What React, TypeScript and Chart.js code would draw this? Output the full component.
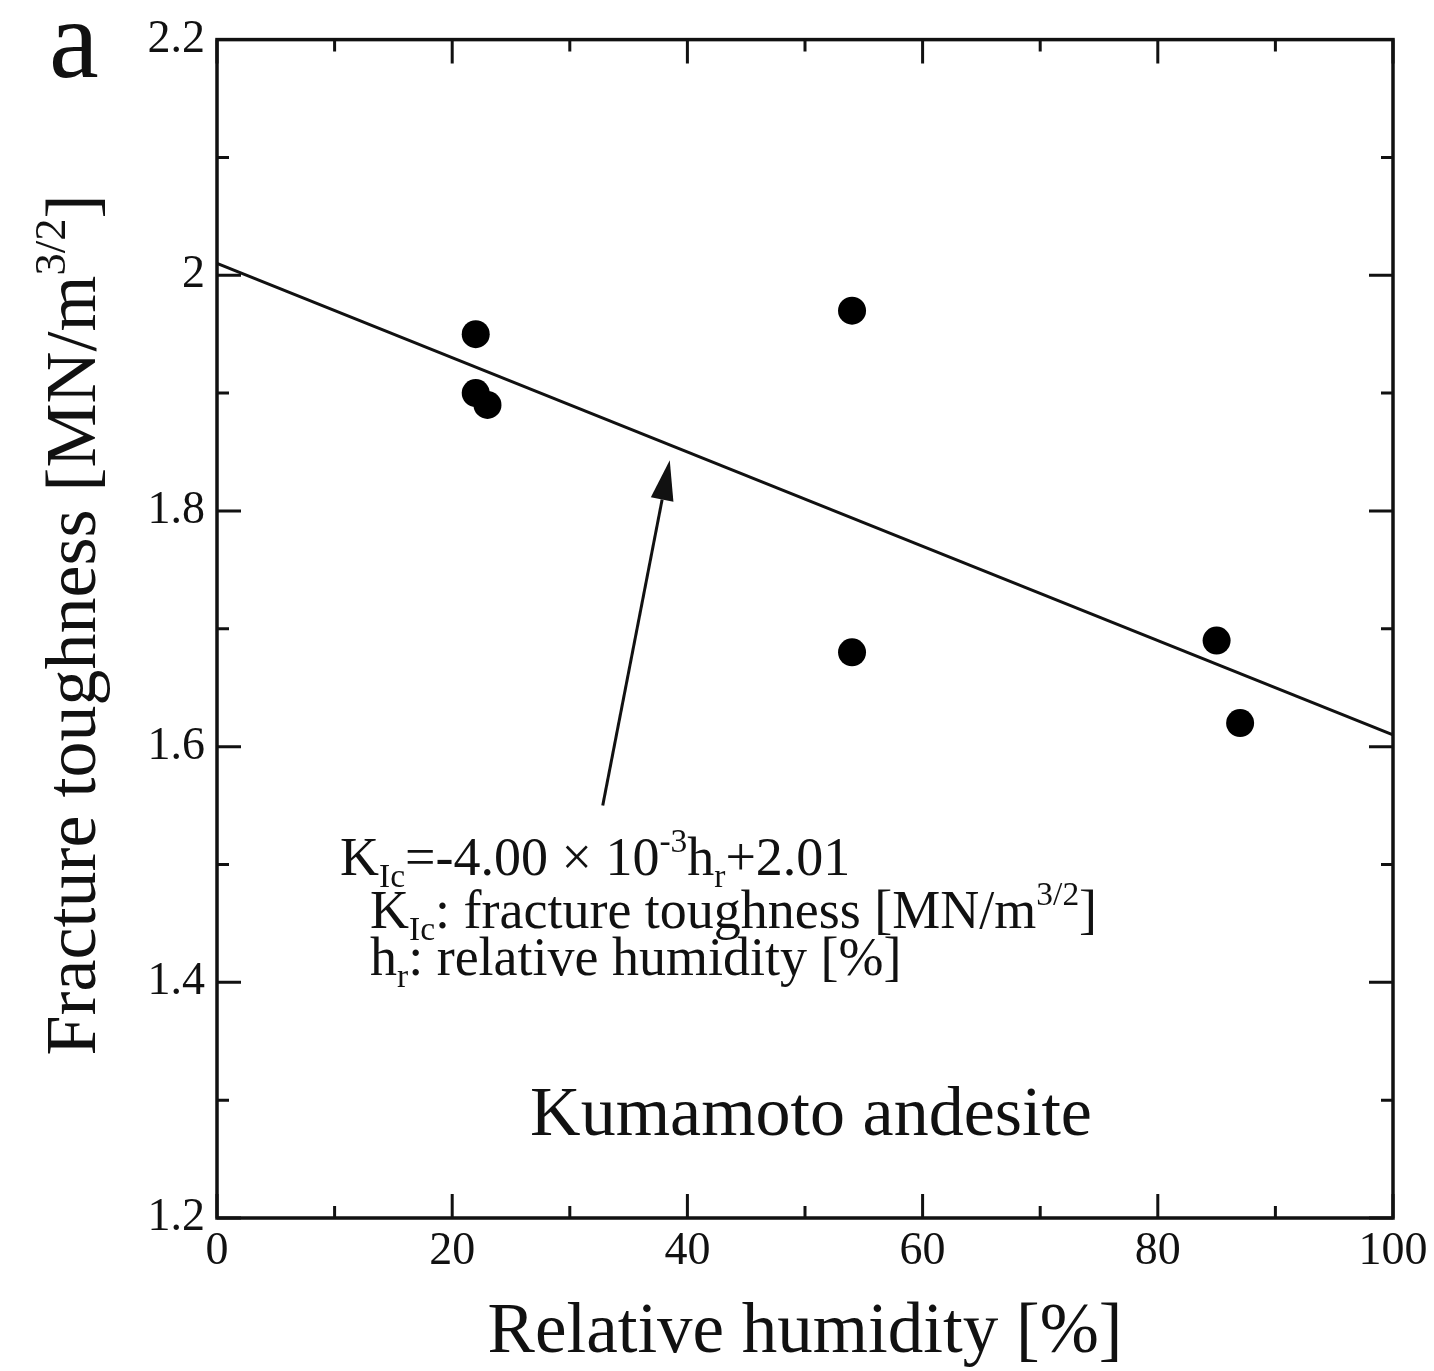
import React, { useEffect, useRef } from "react";
import { Chart, registerables } from "chart.js";

Chart.register(...registerables);

// ---- data ----
const humidity = [22, 22, 23, 54, 54, 85, 87];
const toughness = [1.95, 1.9, 1.89, 1.97, 1.68, 1.69, 1.62];
const fitX = [0, 100];
const fitY = [2.01, 1.61];
const xMajorTicks = [0, 20, 40, 60, 80, 100];
const xMinorTicks = [10, 30, 50, 70, 90];
const yMajorTicks = [1.2, 1.4, 1.6, 1.8, 2.0, 2.2];
const yMinorTicks = [1.3, 1.5, 1.7, 1.9, 2.1];
const yTickLabels = ["1.2", "1.4", "1.6", "1.8", "2", "2.2"];
const xTickLabels = ["0", "20", "40", "60", "80", "100"];
const arrowTail = { x: 32.8, y: 1.55 };
const arrowTip = { x: 38.5, y: 1.843 };

const SERIF = '"Liberation Serif", "Times New Roman", serif';

type Seg = { t: string; m?: "sub" | "sup" };

function segFont(size: number, m?: string) {
  const s = m ? size * 0.62 : size;
  return `${s}px ${SERIF}`;
}
function richWidth(ctx: CanvasRenderingContext2D, segs: Seg[], size: number) {
  let w = 0;
  for (const s of segs) {
    ctx.font = segFont(size, s.m);
    w += ctx.measureText(s.t).width;
  }
  return w;
}
function richText(ctx: CanvasRenderingContext2D, segs: Seg[], x: number, y: number, size: number) {
  let cx = x;
  ctx.textAlign = "left";
  ctx.textBaseline = "alphabetic";
  for (const s of segs) {
    ctx.font = segFont(size, s.m);
    let dy = 0;
    if (s.m === "sub") dy = size * 0.22;
    if (s.m === "sup") dy = -size * 0.42;
    ctx.fillText(s.t, cx, y + dy);
    cx += ctx.measureText(s.t).width;
  }
  return cx - x;
}

const decorPlugin = {
  id: "decor",
  afterDatasetsDraw(chart: any) {
    const ctx: CanvasRenderingContext2D = chart.ctx;
    const { left, right, top, bottom } = chart.chartArea;
    const xs = chart.scales.x;
    const ys = chart.scales.y;
    ctx.save();
    ctx.strokeStyle = "#111";
    ctx.fillStyle = "#111";
    // frame
    ctx.lineWidth = 3.5;
    ctx.strokeRect(left, top, right - left, bottom - top);
    // ticks (inward, all sides)
    ctx.lineWidth = 3;
    const major = 24;
    const minor = 12;
    ctx.beginPath();
    const xt = (v: number, len: number) => {
      const px = xs.getPixelForValue(v);
      ctx.moveTo(px, bottom);
      ctx.lineTo(px, bottom - len);
      ctx.moveTo(px, top);
      ctx.lineTo(px, top + len);
    };
    const yt = (v: number, len: number) => {
      const py = ys.getPixelForValue(v);
      ctx.moveTo(left, py);
      ctx.lineTo(left + len, py);
      ctx.moveTo(right, py);
      ctx.lineTo(right - len, py);
    };
    xMajorTicks.forEach((v) => xt(v, major));
    xMinorTicks.forEach((v) => xt(v, minor));
    yMajorTicks.forEach((v) => yt(v, major));
    yMinorTicks.forEach((v) => yt(v, minor));
    ctx.stroke();

    // arrow
    const ax0 = xs.getPixelForValue(arrowTail.x);
    const ay0 = ys.getPixelForValue(arrowTail.y);
    const ax1 = xs.getPixelForValue(arrowTip.x);
    const ay1 = ys.getPixelForValue(arrowTip.y);
    const ang = Math.atan2(ay1 - ay0, ax1 - ax0);
    const hl = 40;
    const hw = 11.5;
    const bx = ax1 - hl * Math.cos(ang);
    const by = ay1 - hl * Math.sin(ang);
    ctx.lineWidth = 3;
    ctx.beginPath();
    ctx.moveTo(ax0, ay0);
    ctx.lineTo(bx, by);
    ctx.stroke();
    ctx.beginPath();
    ctx.moveTo(ax1, ay1);
    ctx.lineTo(bx + hw * Math.sin(ang), by - hw * Math.cos(ang));
    ctx.lineTo(bx - hw * Math.sin(ang), by + hw * Math.cos(ang));
    ctx.closePath();
    ctx.fill();

    // annotation
    const fs = 54;
    richText(
      ctx,
      [
        { t: "K" },
        { t: "Ic", m: "sub" },
        { t: "=-4.00 × 10" },
        { t: "-3", m: "sup" },
        { t: "h" },
        { t: "r", m: "sub" },
        { t: "+2.01" },
      ],
      340,
      875,
      fs
    );
    richText(
      ctx,
      [
        { t: "K" },
        { t: "Ic", m: "sub" },
        { t: ": fracture toughness [MN/m" },
        { t: "3/2", m: "sup" },
        { t: "]" },
      ],
      370,
      928,
      fs
    );
    richText(
      ctx,
      [{ t: "h" }, { t: "r", m: "sub" }, { t: ": relative humidity [%]" }],
      370,
      975,
      fs
    );

    // sample label
    ctx.font = `70px ${SERIF}`;
    ctx.textAlign = "center";
    ctx.textBaseline = "alphabetic";
    ctx.fillText("Kumamoto andesite", 811, 1135);

    // panel letter
    ctx.font = `112px ${SERIF}`;
    ctx.textAlign = "left";
    ctx.fillText("a", 49, 77);

    // x title
    ctx.font = `71px ${SERIF}`;
    ctx.textAlign = "center";
    ctx.fillText("Relative humidity [%]", (left + right) / 2, 1352);

    // y title
    const ySegs: Seg[] = [
      { t: "Fracture toughness [MN/m" },
      { t: "3/2", m: "sup" },
      { t: "]" },
    ];
    const tsz = 72;
    const w = richWidth(ctx, ySegs, tsz);
    ctx.save();
    ctx.translate(95, 625);
    ctx.rotate(-Math.PI / 2);
    richText(ctx, ySegs, -w / 2, 0, tsz);
    ctx.restore();

    ctx.restore();
  },
};

export default function App() {
  const ref = useRef<HTMLCanvasElement | null>(null);
  useEffect(() => {
    if (!ref.current) return;
    const chart = new Chart(ref.current, {
      type: "scatter",
      data: {
        datasets: [
          {
            label: "fit",
            data: fitX.map((x, i) => ({ x, y: fitY[i] })),
            showLine: true,
            borderColor: "#111",
            borderWidth: 3,
            pointRadius: 0,
            order: 2,
          },
          {
            label: "KIc",
            data: humidity.map((x, i) => ({ x, y: toughness[i] })),
            backgroundColor: "#000",
            borderWidth: 0,
            pointRadius: 14,
            pointHoverRadius: 14,
            order: 1,
          },
        ],
      },
      options: {
        responsive: false,
        animation: false,
        devicePixelRatio: 1,
        layout: { padding: { top: 38, right: 41, left: 0, bottom: 0 } },
        plugins: { legend: { display: false }, tooltip: { enabled: false } },
        scales: {
          x: {
            type: "linear",
            min: 0,
            max: 100,
            afterFit: (s: any) => {
              s.height = 153;
            },
            afterBuildTicks: (s: any) => {
              s.ticks = xMajorTicks.map((v) => ({ value: v }));
            },
            grid: { display: false, drawTicks: false },
            border: { display: false },
            ticks: {
              padding: 6,
              color: "#111",
              font: { family: SERIF, size: 46 },
              maxRotation: 0,
              autoSkip: false,
              callback: (v: any) => {
                const i = xMajorTicks.indexOf(Number(v));
                return i >= 0 ? xTickLabels[i] : "";
              },
            },
          },
          y: {
            type: "linear",
            min: 1.2,
            max: 2.2,
            afterFit: (s: any) => {
              s.width = 217;
            },
            afterBuildTicks: (s: any) => {
              s.ticks = yMajorTicks.map((v) => ({ value: v }));
            },
            grid: { display: false, drawTicks: false },
            border: { display: false },
            ticks: {
              padding: 12,
              color: "#111",
              font: { family: SERIF, size: 46 },
              autoSkip: false,
              callback: (v: any) => {
                const i = yMajorTicks.findIndex((t) => Math.abs(t - Number(v)) < 1e-6);
                return i >= 0 ? yTickLabels[i] : "";
              },
            },
          },
        },
      },
      plugins: [decorPlugin],
    });
    return () => chart.destroy();
  }, []);
  return (
    <div style={{ position: "absolute", left: 0, top: 0, width: 1434, height: 1371, background: "#fff" }}>
      <canvas ref={ref} width={1434} height={1371} />
    </div>
  );
}
